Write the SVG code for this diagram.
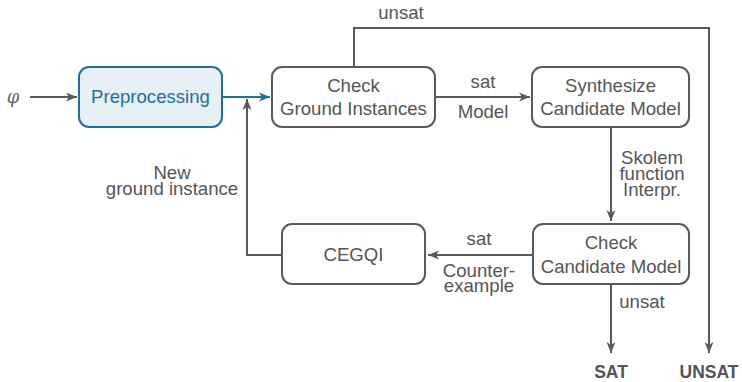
<svg xmlns="http://www.w3.org/2000/svg" width="742" height="382" viewBox="0 0 742 382">
<defs>
<style>
.box{fill:#ffffff;stroke:#5a5a5a;stroke-width:2}
.pre{fill:#e6f0f6;stroke:#1f6f99;stroke-width:2}
.t{font-family:"Liberation Sans",Arial,sans-serif;font-size:18.6px;fill:#555555;text-anchor:middle}
.tb{font-family:"Liberation Sans",Arial,sans-serif;font-size:17.5px;fill:#555555;text-anchor:middle;font-weight:bold}
.tp{font-family:"Liberation Sans",Arial,sans-serif;font-size:18.6px;fill:#1f6f99;text-anchor:middle}
.c{fill:none;stroke:#5a5a5a;stroke-width:2}
.cb{fill:none;stroke:#1f6f99;stroke-width:2}
</style>
<marker id="ah" markerUnits="userSpaceOnUse" markerWidth="12" markerHeight="10" refX="11" refY="5" orient="auto">
<path d="M0,0.5 L11,5 L0,9.5 L3,5 z" fill="#5a5a5a"/>
</marker>
<marker id="ahb" markerUnits="userSpaceOnUse" markerWidth="12" markerHeight="10" refX="11" refY="5" orient="auto">
<path d="M0,0.5 L11,5 L0,9.5 L3,5 z" fill="#1f6f99"/>
</marker>
</defs>
<g id="connectors">
<path class="c" d="M30,97 H77" marker-end="url(#ah)"/>
<path class="cb" d="M223,97 H270" marker-end="url(#ahb)"/>
<path class="c" d="M354,67 V28 H709 V353" marker-end="url(#ah)"/>
<path class="c" d="M435,97 H530" marker-end="url(#ah)"/>
<path class="c" d="M611,127 V221" marker-end="url(#ah)"/>
<path class="c" d="M533,255 H428" marker-end="url(#ah)"/>
<path class="c" d="M282,255 H247 V99" marker-end="url(#ah)"/>
<path class="c" d="M611,284 V353" marker-end="url(#ah)"/>
<text class="t" x="401" y="19">unsat</text>
<text class="t" x="483" y="88">sat</text>
<text class="t" x="483" y="118">Model</text>
<text class="t" x="652" y="164">Skolem</text>
<text class="t" x="652" y="180">function</text>
<text class="t" x="652" y="196">Interpr.</text>
<text class="t" x="479" y="245">sat</text>
<text class="t" x="479" y="277">Counter-</text>
<text class="t" x="479" y="292">example</text>
<text class="t" x="642" y="308">unsat</text>
<text class="t" x="172" y="179">New</text>
<text class="t" x="172" y="195">ground instance</text>
</g>
<g id="phi">
<text x="13" y="103" style="font-family:'DejaVu Serif',serif;font-style:italic;font-size:18px;fill:#666666;text-anchor:middle">φ</text>
</g>
<g id="preprocessing">
<rect class="pre" x="79" y="67" width="143" height="60" rx="10"/>
<text class="tp" x="150.5" y="103">Preprocessing</text>
</g>
<g id="check-ground">
<rect class="box" x="272" y="67" width="163" height="60" rx="10"/>
<text class="t" x="353.5" y="92">Check</text>
<text class="t" x="353.5" y="115">Ground Instances</text>
</g>
<g id="synthesize">
<rect class="box" x="532" y="67" width="157" height="60" rx="10"/>
<text class="t" x="610.5" y="92">Synthesize</text>
<text class="t" x="610.5" y="115">Candidate Model</text>
</g>
<g id="check-candidate">
<rect class="box" x="533" y="224" width="156" height="60" rx="10"/>
<text class="t" x="611" y="249">Check</text>
<text class="t" x="611" y="273">Candidate Model</text>
</g>
<g id="cegqi">
<rect class="box" x="282" y="224" width="143" height="60" rx="10"/>
<text class="t" x="353.5" y="261">CEGQI</text>
</g>
<g id="sat">
<text class="tb" x="611" y="378">SAT</text>
</g>
<g id="unsat">
<text class="tb" x="709" y="378">UNSAT</text>
</g>
</svg>
